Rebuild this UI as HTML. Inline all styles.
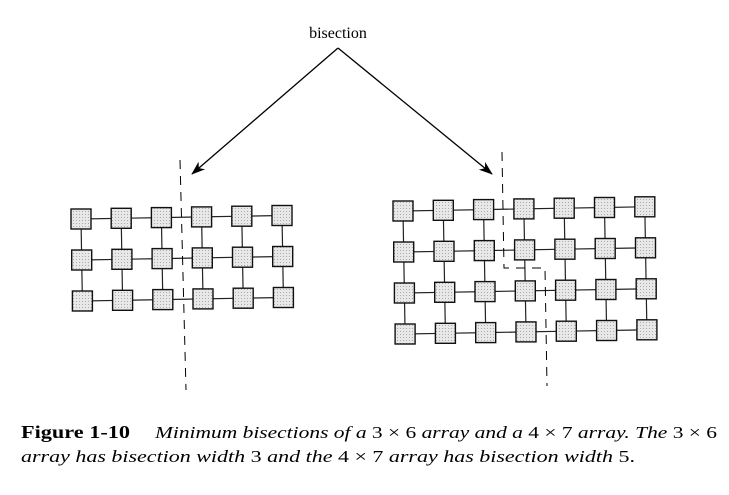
<!DOCTYPE html>
<html><head><style>body{margin:0;background:#fff}svg{display:block}</style></head>
<body>
<svg id="s" width="729" height="495" viewBox="0 0 729 495" xmlns="http://www.w3.org/2000/svg" font-family="'Liberation Serif', serif">
<defs>
<pattern id="dots" width="3" height="3" patternUnits="userSpaceOnUse"><rect width="3" height="3" fill="#e8e8e8"/><rect x="1" y="1" width="1" height="1" fill="#aaa"/></pattern>
<marker id="ah" markerWidth="14" markerHeight="10" refX="13" refY="5" orient="auto" markerUnits="userSpaceOnUse"><path d="M0,0 L14,5 L0,10 L4,5 Z" fill="#000"/></marker>
</defs>
<text x="338" y="38" font-size="16" text-anchor="middle">bisection</text>
<line x1="338" y1="48" x2="192" y2="174" stroke="#000" stroke-width="1.3" marker-end="url(#ah)"/>
<line x1="338" y1="48" x2="492" y2="174" stroke="#000" stroke-width="1.3" marker-end="url(#ah)"/>
<g id="g" stroke="#222" stroke-width="1.2"></g>
<path d="M180,160 L186,390" stroke="#000" stroke-width="1" stroke-dasharray="9,7" fill="none"/>
<path d="M502,152 L504,268 L545,268 L547,386" stroke="#000" stroke-width="1" stroke-dasharray="9,7" fill="none"/>
<text x="21" y="438" font-size="18" font-weight="bold" textLength="109" lengthAdjust="spacingAndGlyphs">Figure 1-10</text>
<text x="155" y="438" font-size="17" textLength="562" lengthAdjust="spacingAndGlyphs"><tspan font-style="italic">Minimum bisections of a </tspan><tspan>3 × 6</tspan><tspan font-style="italic"> array and a </tspan><tspan>4 × 7</tspan><tspan font-style="italic"> array.  The </tspan><tspan>3 × 6</tspan></text>
<text x="21" y="462" font-size="17" textLength="614" lengthAdjust="spacingAndGlyphs"><tspan font-style="italic">array has bisection width </tspan><tspan>3</tspan><tspan font-style="italic"> and the </tspan><tspan>4 × 7</tspan><tspan font-style="italic"> array has bisection width </tspan><tspan>5.</tspan></text>
</svg>
<script>
var g=document.getElementById('g'),h='';
function grid(x0,y0,cols,rows,p){
 var c=[];for(var r=0;r<rows;r++){c[r]=[];for(var k=0;k<cols;k++){c[r][k]=[x0+k*p+r*0.7,y0+r*41-k*0.7];}}
 for(var r=0;r<rows;r++)for(var k=0;k<cols;k++){var a=c[r][k];
  if(k<cols-1){var b=c[r][k+1];h+='<line x1="'+(a[0]+10)+'" y1="'+(a[1]+10)+'" x2="'+(b[0]+10)+'" y2="'+(b[1]+10)+'"/>';}
  if(r<rows-1){var b=c[r+1][k];h+='<line x1="'+(a[0]+10)+'" y1="'+(a[1]+10)+'" x2="'+(b[0]+10)+'" y2="'+(b[1]+10)+'"/>';}}
 for(var r=0;r<rows;r++)for(var k=0;k<cols;k++){var a=c[r][k];h+='<rect x="'+a[0]+'" y="'+a[1]+'" width="20" height="20" fill="url(#dots)" stroke="#111" stroke-width="1.4"/>';}
}
grid(71,209,6,3,40.2);
grid(393,201,7,4,40.3);
g.innerHTML=h;
</script>
</body></html>
